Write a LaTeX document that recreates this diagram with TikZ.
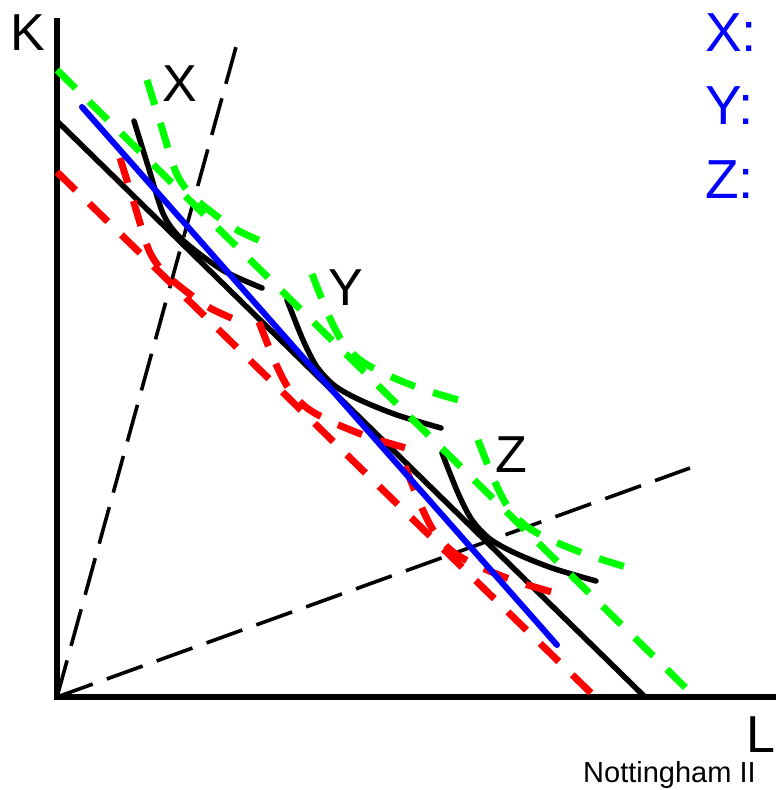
\documentclass[tikz,border=0pt]{standalone}
\usepackage{fontspec}
\setmainfont{Liberation Sans}
\definecolor{lgreen}{RGB}{0,255,0}
\definecolor{pblue}{RGB}{0,0,255}
\begin{document}
\begin{tikzpicture}[x=1pt,y=-1pt,
  axis/.style={line width=6pt, line join=miter},
  ray/.style={line width=3.6pt, dash pattern=on 38pt off 15pt},
  budget/.style={line width=5.5pt},
  iso/.style={line width=5.5pt, line cap=round},
  gdash/.style={line width=7pt, draw=lgreen, dash pattern=on 26pt off 19pt},
  rdash/.style={line width=7pt, draw=red, dash pattern=on 26pt off 19pt},
  blueline/.style={line width=6pt, draw=pblue, line cap=round},
  lbl/.style={font=\fontsize{52}{60}\selectfont, inner sep=0pt},
  leg/.style={font=\fontsize{55}{60}\selectfont, inner sep=0pt, text=pblue, anchor=west},
]
\useasboundingbox (0,0) rectangle (776,790);
% coordinates
\coordinate (O) at (57,697);
\coordinate (Ktop) at (57,18);
\coordinate (Lend) at (776,697);
\coordinate (R1) at (236,47);
\coordinate (R2) at (690,468);
\coordinate (B0) at (57,121);
\coordinate (B1) at (645,697);
\coordinate (G0) at (57,70);
\coordinate (G1) at (695,697);
\coordinate (D0) at (57,172);
\coordinate (D1) at (592,694);
\coordinate (U0) at (82,107);
\coordinate (U1) at (557,645);
% axes
\draw[axis] (Ktop) -- (O) -- (Lend);
% rays
\draw[ray] (O) -- (R1);
\draw[ray] (O) -- (R2);
% black budget line and isoquants
\draw[budget] (B0) -- (B1);
\draw[iso, shift={(134,121)}] plot[smooth] coordinates {(0,0) (14,45) (28,90) (40,110) (58,127) (90,150) (128,167)};
\draw[iso, shift={(287,300)}] plot[smooth] coordinates {(0,0) (16,40) (30,67) (48,86) (73,100) (110,115) (154,128)};
\draw[iso, shift={(442,453)}] plot[smooth] coordinates {(0,0) (16,40) (30,67) (48,86) (73,100) (110,115) (154,128)};
% red
\draw[rdash] (D0) -- (D1);
\draw[rdash, shift={(120,158)}] plot[smooth] coordinates {(0,0) (14,45) (28,90) (40,110) (58,127) (90,150) (128,167)};
\draw[rdash, shift={(259,322)}] plot[smooth] coordinates {(0,0) (16,40) (30,67) (48,86) (73,100) (110,115) (154,128)};
\draw[rdash, shift={(405,466)}] plot[smooth] coordinates {(0,0) (16,40) (30,67) (48,86) (73,100) (110,115) (154,128)};
% green
\draw[gdash] (G0) -- (G1);
\draw[gdash, shift={(147,80)}] plot[smooth] coordinates {(0,0) (14,45) (28,90) (40,110) (58,127) (90,150) (128,167)};
\draw[gdash, shift={(312,274)}] plot[smooth] coordinates {(0,0) (16,40) (30,67) (48,86) (73,100) (110,115) (150,127)};
\draw[gdash, shift={(478,440)}] plot[smooth] coordinates {(0,0) (16,40) (30,67) (48,86) (73,100) (110,115) (148,127)};
% blue
\draw[blueline] (U0) -- (U1);
% labels
\node[lbl] (k) at (27.5,33) {K};
\node[lbl, anchor=east] (l) at (776,735) {L};
\node[lbl] (x) at (180,84) {X};
\node[lbl] (y) at (346,288) {Y};
\node[lbl] (z) at (511,455) {Z};
\node[leg] (lx) at (705,32.5) {X:};
\node[leg] (ly) at (705,106) {Y:};
\node[leg] (lz) at (705,180) {Z:};
\node[font=\fontsize{29}{32}\selectfont, inner sep=0pt, anchor=base west] (n) at (583,782) {Nottingham II};
\end{tikzpicture}
\end{document}
